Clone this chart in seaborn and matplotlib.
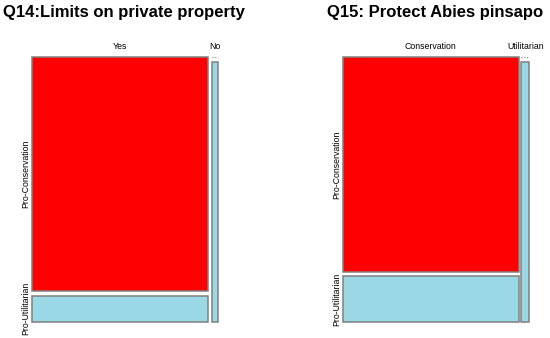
import matplotlib
matplotlib.use("Agg")
import matplotlib.pyplot as plt
import seaborn as sns

# Q14: Limits on private property (columns) x attitude (rows)
q14_title = "Q14:Limits on private property"
q14_cols = ["Yes", "No"]
q14_conservation = [99, 0]
q14_utilitarian = [11, 4]

# Q15: Protect Abies pinsapo
q15_title = "Q15: Protect Abies pinsapo"
q15_cols = ["Conservation", "Utilitarian"]
q15_conservation = [90, 0]
q15_utilitarian = [19, 5]

row_labels = ["Pro-Conservation", "Pro-Utilitarian"]

RED = "#ff0000"
BLUE = "#9bd8e5"
EDGE = "#808080"


def mosaic(ax, cols, cons, util, gap_x, gap_y):
    totals = [c + u for c, u in zip(cons, util)]
    n = sum(totals)
    x = 0.0
    centers = []
    for i, col in enumerate(cols):
        w = totals[i] / n
        fu = util[i] / totals[i]
        fc = cons[i] / totals[i]
        # utilitarian at the bottom, conservation on top
        if fu > 0:
            ax.bar(x, fu, width=w, bottom=0, align="edge", color=BLUE,
                   edgecolor=EDGE, linewidth=1.1, clip_on=False)
        if fc > 0:
            ax.bar(x, fc, width=w, bottom=fu + gap_y, align="edge", color=RED,
                   edgecolor=EDGE, linewidth=1.1, clip_on=False)
        else:
            ax.hlines(1 + gap_y, x, x + w, colors=EDGE, linestyles=(0, (1, 1.5)),
                      linewidth=0.8, clip_on=False)
        if i == 0:
            first_util, first_cons = fu, fc
        centers.append(x + w / 2)
        x += w + gap_x

    ax.set_xlim(0, 1 + gap_x * (len(cols) - 1))
    ax.set_ylim(0, 1 + gap_y)
    ax.xaxis.tick_top()
    ax.set_xticks(centers)
    ax.set_xticklabels(cols)
    ax.set_yticks([first_util + gap_y + first_cons / 2, first_util / 2])
    ax.set_yticklabels(row_labels, rotation=90, va="center")
    ax.tick_params(axis="both", length=0, labelsize=6.3, colors="black")
    ax.tick_params(axis="x", pad=4.5)
    ax.tick_params(axis="y", pad=1.2)
    for s in ax.spines.values():
        s.set_visible(False)
    ax.set_facecolor("none")
    ax.grid(False)


sns.set_theme(style="white")
plt.rcParams["font.family"] = ["Liberation Sans", "DejaVu Sans"]

W, H = 550, 338
fig = plt.figure(figsize=(W / 100, H / 100), dpi=100)


def px_axes(x0, y0, x1, y1):
    return fig.add_axes([x0 / W, 1 - y1 / H, (x1 - x0) / W, (y1 - y0) / H])


ax1 = px_axes(32, 57.3, 218.3, 321.5)
mosaic(ax1, q14_cols, q14_conservation, q14_utilitarian, 3.7 / 182.6, 5.0 / 259.0)

ax2 = px_axes(342.7, 57.3, 529.3, 321.5)
mosaic(ax2, q15_cols, q15_conservation, q15_utilitarian, 2.7 / 183.9, 4.6 / 259.0)

fig.text(2.7 / W, 1 - 17.5 / H, q14_title, fontsize=12, fontweight="bold",
         va="baseline", ha="left", color="black")
fig.text(326.7 / W, 1 - 17.5 / H, q15_title, fontsize=12, fontweight="bold",
         va="baseline", ha="left", color="black")

fig.savefig("out.png", dpi=100, facecolor="white")
